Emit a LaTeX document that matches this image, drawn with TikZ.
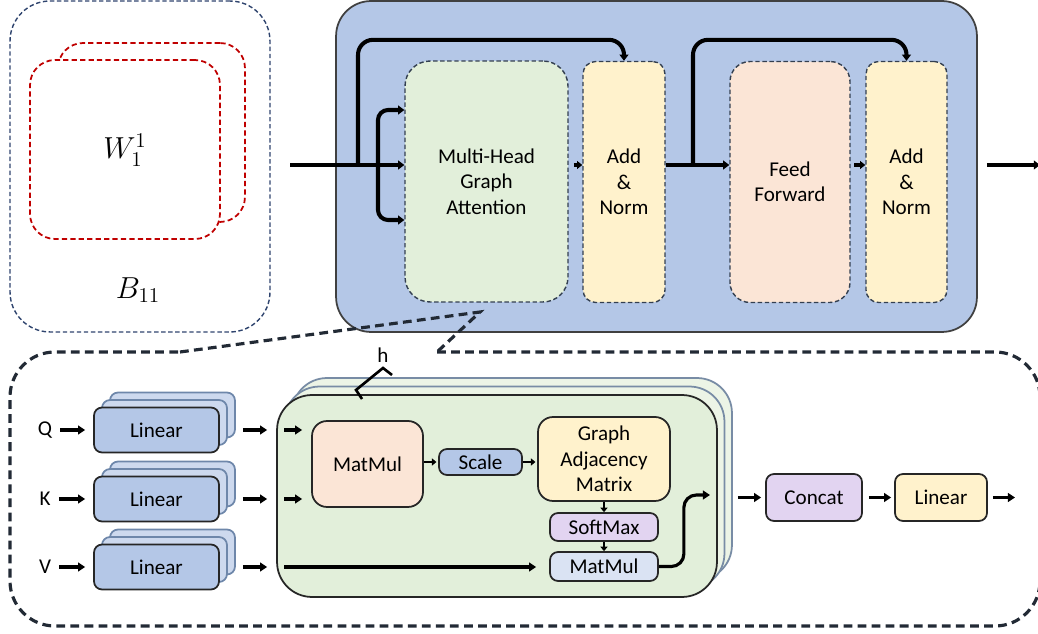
\documentclass[tikz,border=0pt]{standalone}
\usepackage{fontspec}
\setmainfont{Carlito}
\usepackage{tikz}
\usetikzlibrary{
  arrows.meta,
  positioning,
  calc
}
\usepackage{xcolor}
\definecolor{encblue}{RGB}{180,199,231}
\definecolor{encline}{RGB}{64,64,64}
\definecolor{subline}{RGB}{51,63,80}
\definecolor{navyline}{RGB}{47,68,110}
\definecolor{wred}{RGB}{192,0,0}
\definecolor{attgreen}{RGB}{226,239,218}
\definecolor{normyellow}{RGB}{255,242,204}
\definecolor{ffpeach}{RGB}{251,229,214}
\definecolor{opline}{RGB}{38,38,38}
\definecolor{linbackfill}{RGB}{205,217,238}
\definecolor{linbackline}{RGB}{110,135,170}
\definecolor{headbackfill}{RGB}{236,244,230}
\definecolor{headbackline}{RGB}{120,140,165}
\definecolor{softpurple}{RGB}{226,212,241}
\definecolor{mmblue}{RGB}{218,227,243}
\definecolor{calloutline}{RGB}{34,42,53}

\begin{document}
\begin{tikzpicture}[x=0.02cm, y=-0.02cm,
  txt/.style={font=\fontsize{12}{14.5}\selectfont, align=center, inner sep=0pt},
  sub/.style={txt, rectangle, draw=subline, line width=0.8pt,
              dash pattern=on 2.5pt off 1.5pt, fill=#1, minimum height=4.82cm},
  op/.style={txt, rectangle, rounded corners=0.16cm, draw=opline,
             line width=1pt, fill=#1},
  wbox/.style={rectangle, draw=wred, line width=1pt, dash pattern=on 3pt off 1.8pt,
               rounded corners=0.5cm, minimum width=3.8cm, minimum height=3.58cm, fill=white},
  linstack/.style={rectangle, rounded corners=0.16cm, draw=linbackline, line width=1pt,
                   fill=linbackfill, minimum width=2.5cm, minimum height=0.9cm},
  headstack/.style={rectangle, rounded corners=0.7cm, draw=headbackline, line width=1pt,
                    fill=headbackfill, minimum width=8.8cm, minimum height=4.04cm},
  callout/.style={draw=calloutline, line width=1.8pt, dash pattern=on 5pt off 3pt},
  arr/.style={-{Triangle[length=3.5pt, width=5pt]}, line width=2.3pt},
  sarr/.style={-{Triangle[length=3pt, width=4.5pt]}, line width=1.8pt},
  larr/.style={-{Triangle[length=4pt, width=5pt]}, line width=1.8pt},
  iarr/.style={-{Triangle[length=2.5pt, width=4pt]}, line width=1.4pt}
]
  \useasboundingbox (0,0) rectangle (1038,634);

  % Block B_11 with its stacked weights
  \node[rectangle, rounded corners=0.8cm, draw=navyline, line width=0.8pt,
        dash pattern=on 2.5pt off 1.5pt, minimum width=5.2cm, minimum height=6.62cm]
        (b11) at (140,166.5) {};
  \node[wbox, minimum width=3.74cm] (wback) at (151.5,132.5) {};
  \node[wbox] (wfront) at (125,149.5) {};
  \node[font=\fontsize{18}{20}\selectfont] (wlab) at (125,150) {$W_1^1$};
  \node[font=\fontsize{18}{20}\selectfont] (blab) at (138,290) {$B_{11}$};

  % Encoder layer
  \node[rectangle, rounded corners=0.7cm, draw=encline, line width=1pt, fill=encblue,
        minimum width=12.82cm, minimum height=6.62cm] (enc) at (656.5,166.5) {};

  \node[sub=attgreen, rounded corners=0.5cm, minimum width=3.26cm] (mhga)
    at (486.5,181.5) {Multi-Head\\Graph\\Attention};
  \node[sub=normyellow, rounded corners=0.25cm, minimum width=1.64cm] (an1)
    at (624,182) {Add\\\&\\Norm};
  \node[sub=ffpeach, rounded corners=0.4cm, minimum width=2.4cm] (ff)
    at (790,182) {Feed\\Forward};
  \node[sub=normyellow, rounded corners=0.25cm, minimum width=1.62cm] (an2)
    at (906.5,182) {Add\\\&\\Norm};

  \coordinate (in)  at (290,165);
  \coordinate (sp1) at (358,165);
  \coordinate (br)  at (378,165);
  \coordinate (up)  at (378,110);
  \coordinate (dn)  at (378,220);
  \coordinate (sp2) at (693,165);
  \coordinate (out) at (1040,165);

  % Encoder connections
  \draw[arr] (in) -- (mhga.west |- in);
  \draw[arr, rounded corners=0.2cm] (br) -- (up) -- (mhga.west |- up);
  \draw[arr, rounded corners=0.2cm] (br) -- (dn) -- (mhga.west |- dn);
  \draw[arr, rounded corners=0.3cm] (sp1) |- ([yshift=0.42cm]an1.north) -- (an1.north);
  \draw[sarr, shorten <=3pt] (mhga.east |- in) -- (an1.west |- in);
  \draw[arr] (an1.east |- in) -- (ff.west |- in);
  \draw[arr, rounded corners=0.3cm] (sp2) |- ([yshift=0.42cm]an2.north) -- (an2.north);
  \draw[sarr, shorten <=2pt] (ff.east |- in) -- (an2.west |- in);
  \draw[arr, shorten <=0.18cm] (enc.east |- in) -- (out);

  % Zoomed view of the attention block
  \coordinate (tip) at (480,312);
  \draw[callout, rounded corners=0.9cm] (437,352) -- (1040,352) -- (1040,626)
    -- (10,626) -- (10,352) -- (180,352);
  \draw[callout] (180,352) -- (tip) -- (437,352);

  % h stacked heads
  \foreach \s in {2,1}
    \node[headstack] at (497+\s*7.5, 496-\s*8.5) {};
  \node[headstack, draw=opline, fill=attgreen] (head) at (497,496) {};
  \draw[line width=1.5pt] (362,399) -- (356,390) -- (383,368) -- (392,375);
  \node[txt] (hlab) at (383,355) {h};

  \node[op=ffpeach, rounded corners=0.3cm, minimum width=2.22cm, minimum height=1.72cm]
    (mm1) at (367.5,464) {MatMul};
  \node[op=encblue, minimum width=1.66cm, minimum height=0.52cm] (scl) at (480.5,462) {Scale};
  \node[op=normyellow, rounded corners=0.3cm, minimum width=2.64cm, minimum height=1.68cm]
    (gam) at (604,459) {Graph\\Adjacency\\Matrix};
  \node[op=softpurple, minimum width=2.16cm, minimum height=0.56cm] (smax) at (604,527) {SoftMax};
  \node[op=mmblue, minimum width=2.16cm, minimum height=0.58cm] (mm2) at (604,566.5) {MatMul};

  \draw[iarr, shorten >=1pt] (mm1.east |- scl) -- (scl.west);
  \draw[iarr, shorten >=1pt] (scl) -- (gam.west |- scl);
  \draw[iarr] (gam) -- (smax);
  \draw[iarr] (smax) -- (mm2);
  \coordinate (hout) at (710,495);
  \draw[larr, rounded corners=0.25cm] (mm2.east) -- ++(25,0) |- (hout);

  % Q, K, V projections
  \foreach \yy/\nm in {430/Q, 499/K, 567/V} {
    \foreach \s in {2,1}
      \node[linstack] at (156.5+\s*8, \yy-\s*7.5) {};
    \node[op=encblue, minimum width=2.5cm, minimum height=0.9cm] (lin\nm) at (156.5,\yy) {Linear};
    \node[txt] (\nm) at (45,\yy) {\nm};
    \draw[larr, shorten <=0.16cm, shorten >=0.16cm] (\nm) -- (lin\nm);
    \draw[larr, shorten <=0.46cm, shorten >=0.18cm] (lin\nm.east) -- (head.west |- lin\nm);
  }
  \draw[larr, shorten <=0.16cm, shorten >=0.18cm] (head.west |- linQ) -- (mm1.west |- linQ);
  \draw[larr, shorten <=0.16cm, shorten >=0.18cm] (head.west |- linK) -- (mm1.west |- linK);
  \draw[larr, shorten <=0.16cm, shorten >=0.26cm] (head.west |- linV) -- (mm2.west |- linV);

  % Output of the attention
  \node[op=softpurple, minimum width=1.92cm, minimum height=0.94cm] (concat) at (814,497.5) {Concat};
  \node[op=normyellow, minimum width=1.84cm, minimum height=0.94cm] (lin) at (941,497.5) {Linear};
  \coordinate (lout) at (1015,497.5);
  \draw[larr, shorten <=0.4cm, shorten >=0.08cm] (head.east |- concat) -- (concat);
  \draw[larr, shorten <=0.12cm, shorten >=0.06cm] (concat) -- (lin);
  \draw[larr, shorten <=0.1cm] (lin) -- (lout);
\end{tikzpicture}
\end{document}
